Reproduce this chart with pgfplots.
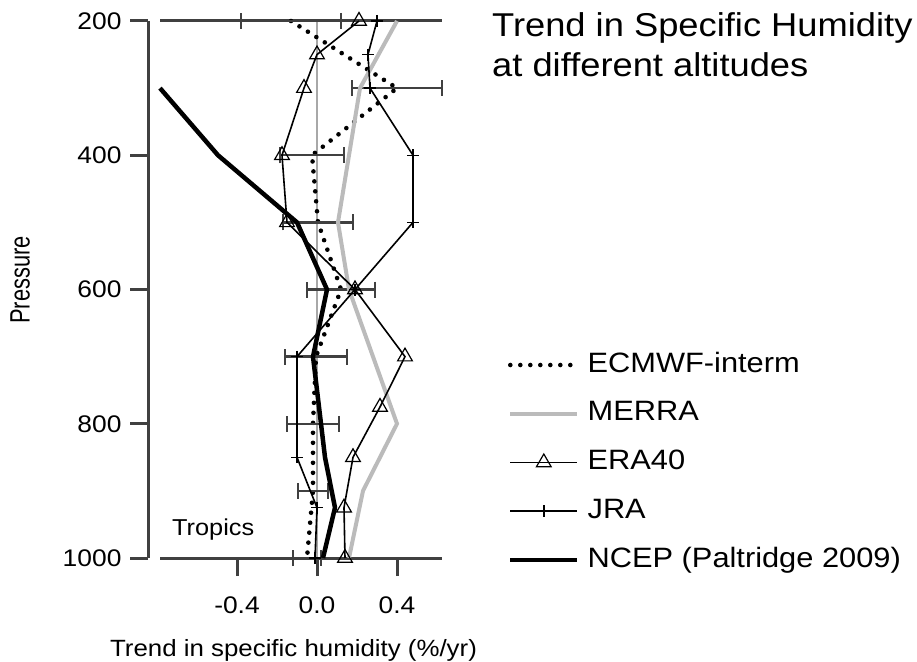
\documentclass[border=0pt]{standalone}
\usepackage{fontspec}
\setmainfont{Liberation Sans}[FakeStretch=1.1]
\usepackage{pgfplots}
\usepackage{pgfplotstable}
\pgfplotsset{compat=1.18}
\definecolor{axisgray}{HTML}{404040}
\definecolor{merragray}{HTML}{BBBBBB}
\definecolor{zerogray}{HTML}{A8A8A8}

\pgfplotstableread{
p x e
200 -0.13 0.25
300 0.40 0.225
400 -0.025 0.16
500 0.005 0.175
600 0.12 0.17
700 -0.005 0.155
800 -0.02 0.13
900 -0.02 0.075
1000 -0.05 0.07
}\ecmwf
\pgfplotstableread{
p x
200 0.40
300 0.215
400 0.16
500 0.105
600 0.16
700 0.28
800 0.40
900 0.23
1000 0.16
}\merra
\pgfplotstableread{
p x
200 0.21
250 0.00
300 -0.065
400 -0.175
500 -0.15
600 0.19
700 0.44
775 0.315
850 0.18
925 0.135
1000 0.14
}\eraforty
\pgfplotstableread{
p x
200 0.30
250 0.255
300 0.265
400 0.48
500 0.48
600 0.19
700 -0.10
850 -0.10
925 0.00
1000 -0.01
}\jra
\pgfplotstableread{
p x
300 -0.785
400 -0.495
500 -0.10
600 0.05
700 -0.02
850 0.04
925 0.09
1000 0.03
}\ncep

\begin{document}
\begin{tikzpicture}[x=1pt,y=1pt]
\useasboundingbox (0,0) rectangle (917,661);
\begin{axis}[
  scale only axis, width=294pt, height=537pt,
  at={(148pt,103pt)}, anchor=south west,
  xmin=-0.845, xmax=0.625, ymin=200, ymax=1000, y dir=reverse,
  clip=false,
  axis x line*=bottom, axis y line*=left,
  x axis line style={draw=none},
  y axis line style={line width=3pt, color=axisgray},
  xtick={-0.4,0,0.4}, xticklabels={-0.4,0.0,0.4},
  ytick={200,400,600,800,1000}, yticklabels={200,400,600,800,1000},
  tick align=outside, major tick length=18pt,
  tick style={line width=3pt, color=axisgray},
  ticklabel style={font=\fontsize{24}{28}\selectfont},
  xticklabel style={yshift=-17pt},
  yticklabel style={xshift=-5pt},
  xlabel={Trend in specific humidity (\%/yr)},
  xlabel style={font=\fontsize{23.5}{28}\selectfont, at={(axis description cs:0.495,-0.1825)}, anchor=base, inner sep=0pt},
  ylabel={\scalebox{0.71}[1]{Pressure}},
  ylabel style={font=\fontsize{28}{32}\selectfont, at={(axis description cs:-0.435,0.518)}, anchor=center, inner sep=0pt},
  legend style={at={(axis description cs:1.2245,0.3836)}, anchor=north west, draw=none, fill=none,
    inner sep=0pt, outer sep=0pt, row sep=22.75pt,
    font=\fontsize{28}{32}\selectfont,
    nodes={inner sep=0pt, text height=20pt, text depth=6pt}},
  legend cell align=left,
  /tikz/every odd column/.append style={column sep=8pt},
  legend image code/.code={
    \draw[mark repeat=2, mark phase=2, #1] plot coordinates {(0pt,0pt) (33.5pt,0pt) (67pt,0pt)};
  },
]
% frame lines and zero line
\addplot[forget plot, line width=1.8pt, color=zerogray] coordinates {(0,200) (0,1000)};
\addplot[forget plot, line width=3pt, color=axisgray] coordinates {(-0.785,200) (0.625,200)};
\addplot[forget plot, line width=3pt, color=axisgray] coordinates {(-0.785,1000) (0.625,1000)};

\addplot[black, line width=4.6pt, line cap=round, dash pattern=on 0pt off 10pt, mark=none,
  error bars/.cd, x dir=both, x explicit,
  error bar style={solid, line width=2.4pt, color=axisgray, line cap=butt},
  error mark options={solid, line width=2.4pt, color=axisgray, mark size=8pt, rotate=90}]
  table[x=x, y=p, x error=e] {\ecmwf};
\addlegendentry{ECMWF-interm}

\addplot[merragray, line width=4pt, mark=none] table[x=x, y=p] {\merra};
\addlegendentry{MERRA}

\addplot[black, line width=1.6pt, mark=triangle, mark size=8.5pt,
  mark options={solid, fill=white, line width=1.2pt}] table[x=x, y=p] {\eraforty};
\addlegendentry{ERA40}

\addplot[black, line width=1.6pt, mark=+, mark size=6pt,
  mark options={solid, line width=1.4pt}] table[x=x, y=p] {\jra};
\addlegendentry{JRA}

\addplot[black, line width=4.5pt, mark=none, line join=round] table[x=x, y=p] {\ncep};
\addlegendentry{NCEP (Paltridge 2009)}
\end{axis}

\node[anchor=base west, inner sep=0pt, font=\fontsize{33}{40}\selectfont] at (492,624) {Trend in Specific Humidity};
\node[anchor=base west, inner sep=0pt, font=\fontsize{33}{40}\selectfont] at (492,584) {at different altitudes};
\node[anchor=base west, inner sep=0pt, font=\fontsize{23}{28}\selectfont] at (172,126) {Tropics};
\end{tikzpicture}
\end{document}
